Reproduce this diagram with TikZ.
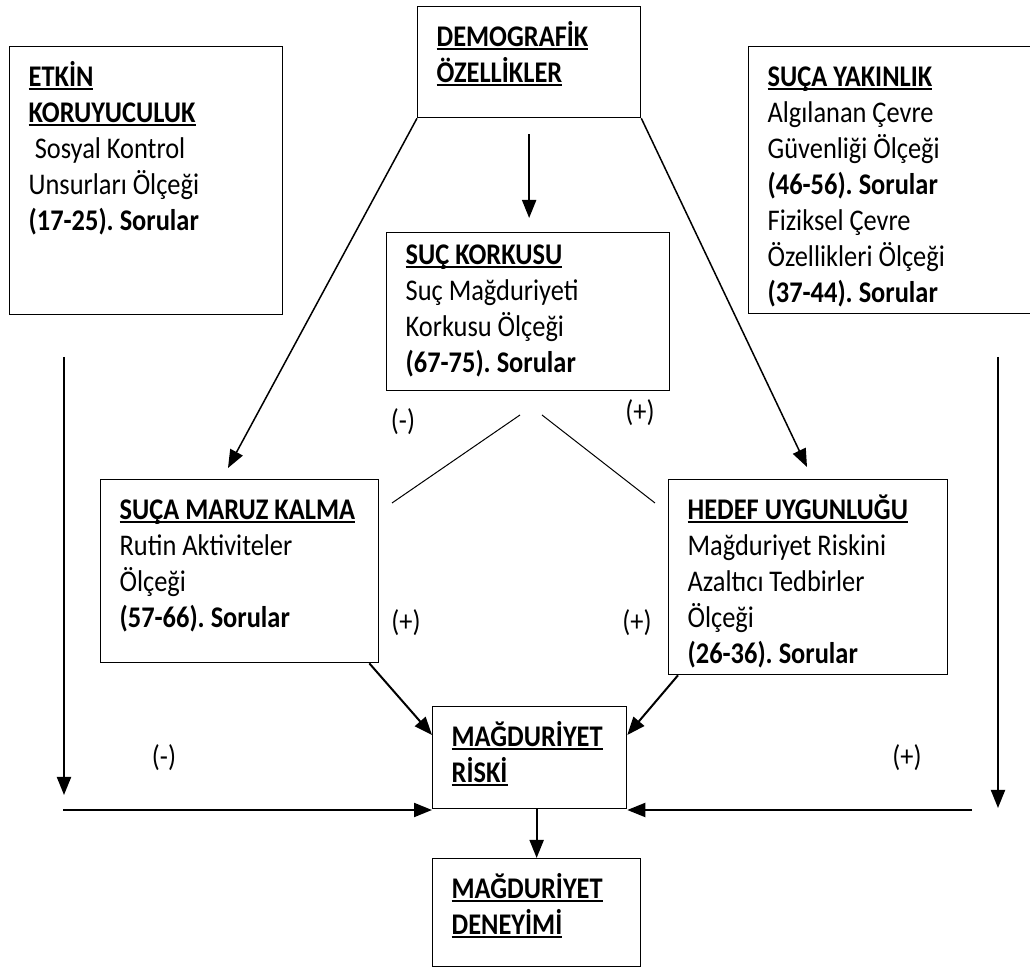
\documentclass[tikz,border=0pt]{standalone}
\usepackage{fontspec}
\setmainfont{Carlito}
\usetikzlibrary{arrows.meta}
\frenchspacing

% basliklar: kalin ve alti cizili
\newcommand{\baslik}[1]{\leavevmode{\bfseries\setbox0=\hbox{#1}\rlap{\rule[-1.7pt]{\wd0}{0.9pt}}\box0}}
% kutu ici yazi (yatayda biraz dar)
\newcommand{\kutuyazi}[3]{\scalebox{0.88}[1]{\parbox[c][#2][t]{\dimexpr #1*100/88\relax}{\raggedright\strut#3}}}
\newcommand{\dar}[1]{\scalebox{0.88}[1]{#1}}

\tikzset{
  kutu/.style={draw, line width=0.65pt, anchor=north west, inner xsep=9.5pt, inner ysep=7.4pt,
    font=\fontsize{15}{18}\selectfont},
  ok/.style={line width=1pt, -{Triangle[length=9pt,width=7pt]}},
  ince/.style={line width=0.5pt},
  isaret/.style={font=\fontsize{15}{18}\selectfont, inner sep=0pt}
}

\begin{document}
\begin{tikzpicture}[x=0.5pt,y=-0.5pt]
        \useasboundingbox (0,0) rectangle (1030,967);

        % Kutular
        \node[kutu] (etkin) at (9,46) {\kutuyazi{117.5pt}{119.2pt}{\baslik{ETKİN}\\ \baslik{KORUYUCULUK}\\ \hspace*{3.5pt}Sosyal Kontrol\\ Unsurları Ölçeği\\ \textbf{(17-25). Sorular}}};
        \node[kutu] (demo) at (417,6) {\kutuyazi{92.5pt}{40.7pt}{\baslik{DEMOGRAFİK}\\ \baslik{ÖZELLİKLER}}};
        \node[kutu, inner ysep=3.4pt] (korku) at (386,232) {\kutuyazi{122.5pt}{72.2pt}{\baslik{SUÇ KORKUSU}\\ Suç Mağduriyeti\\ Korkusu Ölçeği\\ \textbf{(67-75). Sorular}}};
        \node[kutu] (yakin) at (748,46) {\kutuyazi{124pt}{118.7pt}{\baslik{SUÇA YAKINLIK}\\ Algılanan Çevre\\ Güvenliği Ölçeği\\ \textbf{(46-56). Sorular}\\ Fiziksel Çevre\\ Özellikleri Ölçeği\\ \textbf{(37-44). Sorular}}};
        \node[kutu] (maruz) at (100,479) {\kutuyazi{120pt}{76.7pt}{\baslik{SUÇA MARUZ KALMA}\\ Rutin Aktiviteler\\ Ölçeği\\ \textbf{(57-66). Sorular}}};
        \node[kutu] (hedef) at (668,479) {\kutuyazi{120.5pt}{82.7pt}{\baslik{HEDEF UYGUNLUĞU}\\ Mağduriyet Riskini\\ Azaltıcı Tedbirler\\ Ölçeği\\ \textbf{(26-36). Sorular}}};
        \node[kutu] (risk) at (432,706) {\kutuyazi{78pt}{36.2pt}{\baslik{MAĞDURİYET}\\ \baslik{RİSKİ}}};
        \node[kutu] (deney) at (432,858) {\kutuyazi{85pt}{39.2pt}{\baslik{MAĞDURİYET}\\ \baslik{DENEYİMİ}}};

        % Serbest uclar
        \coordinate (u1) at (228,468);
        \coordinate (u2) at (807,467);
        \coordinate (k1) at (520,415);
        \coordinate (k2) at (392,503);
        \coordinate (k3) at (542,415);
        \coordinate (k4) at (655,503);
        \coordinate (s1) at (64,357);
        \coordinate (s2) at (64,795);
        \coordinate (s3) at (63,810);
        \coordinate (r1) at (998,357);
        \coordinate (r2) at (998,808);
        \coordinate (r3) at (972,810);

        % Oklar
        \draw[ok, line width=0.75pt] (demo.south west) -- (u1);
        \draw[ok, line width=0.75pt] (demo.south east) -- (u2);
        \draw[ok, shorten <=8pt, shorten >=7pt] (demo.south) -- (demo.south |- korku.north);
        \draw[ince] (k1) -- (k2);
        \draw[ince] (k3) -- (k4);
        \draw[ok] (s1) -- (s2);
        \draw[ok] (s3) -- (s3 -| risk.west);
        \draw[ok] (r1) -- (r2);
        \draw[ok] (r3) -- (r3 -| risk.east);
        \draw[ok] ([xshift=-5pt]maruz.south east) -- ([yshift=-14.5pt]risk.north west);
        \draw[ok] ([xshift=5pt]hedef.south west) -- ([yshift=-14.5pt]risk.north east);
        \draw[ok] (risk.south -| deney.north) -- (deney.north);

        % Isaretler
        \node[isaret] (i1) at (403,422) {\dar{(-)}};
        \node[isaret] (i2) at (640,413) {\dar{(+)}};
        \node[isaret] (i3) at (406,623) {\dar{(+)}};
        \node[isaret] (i4) at (637,623) {\dar{(+)}};
        \node[isaret] (i5) at (164,758) {\dar{(-)}};
        \node[isaret] (i6) at (907,758) {\dar{(+)}};
    \end{tikzpicture}
\end{document}
